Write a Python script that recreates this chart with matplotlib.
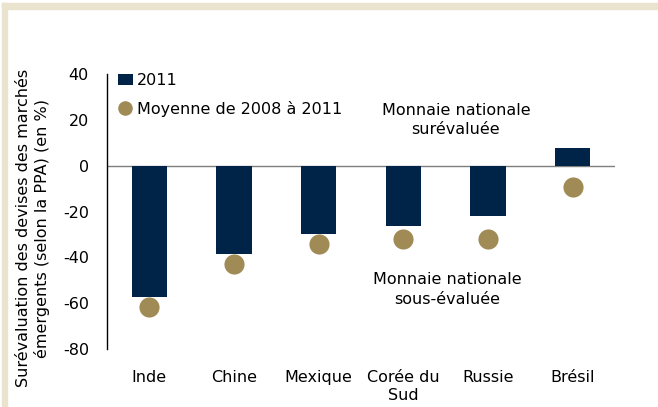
import matplotlib
matplotlib.use("Agg")
import matplotlib.pyplot as plt
from matplotlib.patches import Rectangle
import numpy as np

plt.rcParams['font.family'] = ['DejaVu Sans']

pays = ["Inde", "Chine", "Mexique", "Corée du\nSud", "Russie", "Brésil"]
val_2011 = [-57.5, -38.5, -30, -26.5, -22, 7.5]
moy_2008_2011 = [-61.5, -43, -34, -32, -32, -9.5]

navy = '#002448'
gold = '#A08A55'
beige = '#EAE4CF'
fs = 11.5

fig = plt.figure(figsize=(6.58, 4.07), dpi=100)
ax = fig.add_axes([107 / 658, 1 - 349 / 407, 508 / 658, 275 / 407])

x = np.arange(len(pays))
bars = ax.bar(x, val_2011, width=0.42, color=navy, label='2011', zorder=2)
pts, = ax.plot(x, moy_2008_2011, 'o', color=gold, markersize=14.5, markeredgewidth=0,
               label='Moyenne de 2008 à 2011', zorder=3)
ax.axhline(0, color='#7f7f7f', linewidth=1, zorder=1)

ax.set_xlim(-0.5, len(pays) - 0.5)
ax.set_ylim(-80, 40)
ax.set_yticks(np.arange(-80, 41, 20))
ax.set_yticklabels([str(v) for v in range(-80, 41, 20)])
ax.set_xticks(x)
ax.set_xticklabels(pays, fontsize=fs, linespacing=1.3)
ax.tick_params(axis='both', length=0, labelsize=fs)
ax.tick_params(axis='x', pad=15)
ax.tick_params(axis='y', pad=13)
for s in ['top', 'right', 'bottom']:
    ax.spines[s].set_visible(False)
ax.spines['left'].set_linewidth(1)

leg = ax.legend([bars, pts], ['2011', 'Moyenne de 2008 à 2011'],
                loc='upper left', bbox_to_anchor=(0.0, 1.045), frameon=False,
                fontsize=fs, handlelength=0.9, handletextpad=0.3, labelspacing=0.8,
                borderaxespad=0.3)
leg.legend_handles[1].set_markersize(10.5)

ax.text(3.62, 20, "Monnaie nationale\nsurévaluée", ha='center', va='center',
        fontsize=fs, linespacing=1.35)
ax.text(3.52, -54, "Monnaie nationale\nsous-évaluée", ha='center', va='center',
        fontsize=fs, linespacing=1.35)

fig.text(33 / 658, 1 - 228 / 407,
         "Surévaluation des devises des marchés\némergents (selon la PPA) (en %)",
         rotation=90, ha='center', va='center', fontsize=fs, linespacing=1.3)

# cadre beige haut / gauche
fig.patches.append(Rectangle((2 / 658, 1 - 9 / 407), 1, 6 / 407, transform=fig.transFigure,
                             color=beige, zorder=0))
fig.patches.append(Rectangle((2 / 658, 0), 5 / 658, 1 - 3 / 407, transform=fig.transFigure,
                             color=beige, zorder=0))

fig.savefig("out.png", dpi=100)
